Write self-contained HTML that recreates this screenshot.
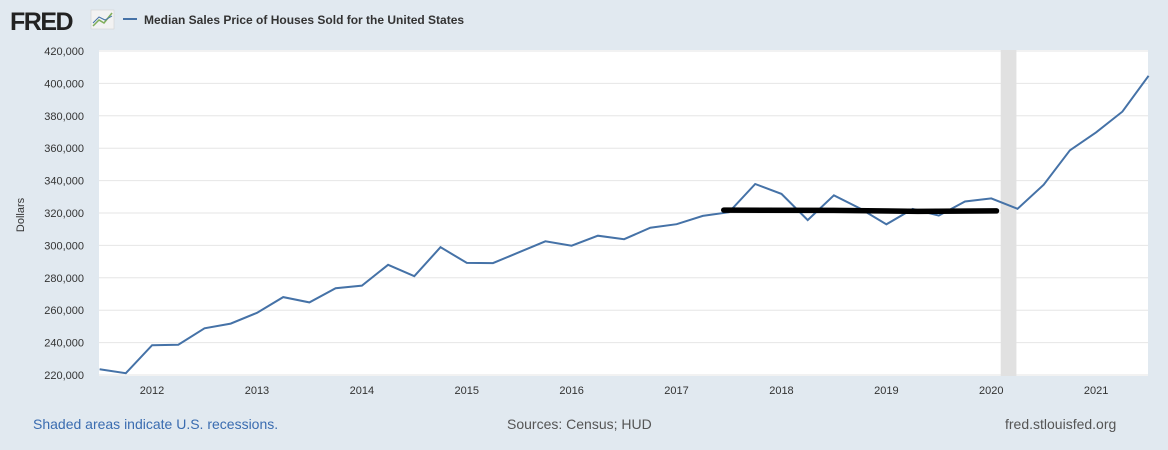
<!DOCTYPE html>
<html><head><meta charset="utf-8"><style>
body{margin:0;background:#e1e9f0;font-family:"Liberation Sans",Arial,sans-serif}
svg{display:block}
</style></head><body>
<svg id="c" width="1168" height="450" xmlns="http://www.w3.org/2000/svg">
<rect width="1168" height="450" fill="#e1e9f0"/>
<g>
<text x="10" y="30" font-size="25" font-weight="bold" fill="#222" letter-spacing="-1.5">FRED</text>
<rect x="91" y="10" width="23" height="19" fill="#f2f2f2" stroke="#ccc" stroke-width="0.5"/>
<polyline points="93,26 99,20 104,23 112,13" fill="none" stroke="#7fae5a" stroke-width="1.5"/>
<polyline points="93,23 99,17 105,20 112,16" fill="none" stroke="#4572a7" stroke-width="1"/>
</g>
<line x1="123" y1="19" x2="137" y2="19" stroke="#4572a7" stroke-width="2"/>
<text x="144" y="24" font-size="12" font-weight="bold" fill="#333">Median Sales Price of Houses Sold for the United States</text>
<rect x="99" y="50" width="1049" height="326" fill="#fff"/>
<g id="grid"></g>
<g id="marks"></g>
<text transform="translate(24,215) rotate(-90)" text-anchor="middle" font-size="11" fill="#333">Dollars</text>
<text x="33" y="429" font-size="14" fill="#3a6cb0">Shaded areas indicate U.S. recessions.</text>
<text x="507" y="429" font-size="14" fill="#555">Sources: Census; HUD</text>
<text x="1005" y="429" font-size="14" fill="#555">fred.stlouisfed.org</text>
</svg>
<script>
const yTicks=[220000,240000,260000,280000,300000,320000,340000,360000,380000,400000,420000];
const xYears=[2012,2013,2014,2015,2016,2017,2018,2019,2020,2021];
const startYear=2011.5;
const prices=[223600,221100,238400,238700,248800,251700,258400,268100,264800,273600,275200,288000,281000,298900,289200,289100,295800,302500,299800,306000,303800,310900,313100,318200,320500,337900,331800,315600,330900,322800,313000,322500,318400,327100,329000,322600,337500,358700,369800,382600,404700];
const recessions=[[2020.09,2020.24]];
const markerLine=[[2017.45,321800],[2018.5,321600],[2019.3,321000],[2020.05,321300]];
const NS="http://www.w3.org/2000/svg";
const x=t=>99.6+(t-startYear)*104.9;
const y=v=>375-(v-220000)*(324/200000);
function mk(tag,attrs,parent){const e=document.createElementNS(NS,tag);for(const k in attrs)e.setAttribute(k,attrs[k]);parent.appendChild(e);return e;}
const grid=document.getElementById('grid'),marks=document.getElementById('marks');
yTicks.forEach(v=>{
 const l=mk('line',{x1:99,x2:1148,y1:y(v),y2:y(v),stroke:'#e6e6e6','stroke-width':1},grid);
 
 
 const t=mk('text',{x:84,y:y(v)+4,'text-anchor':'end','font-size':11,fill:'#333'},grid);
 t.textContent=v.toLocaleString('en-US');
 
 
});
xYears.forEach(yr=>{
 const t=mk('text',{x:x(yr),y:394,'text-anchor':'middle','font-size':11,fill:'#333'},grid);
 t.textContent=yr;
 
 
});
recessions.forEach(r=>{
 const e=mk('rect',{x:x(r[0]),y:50,width:x(r[1])-x(r[0]),height:326,fill:'#e1e1e1'},marks);
 
 
});
const pts=prices.map((v,i)=>x(startYear+i*0.25).toFixed(1)+','+y(v).toFixed(1)).join(' ');
const pl=mk('polyline',{points:pts,fill:'none',stroke:'#4572a7','stroke-width':2},marks);


const ml=mk('polyline',{points:markerLine.map(p=>x(p[0])+','+y(p[1])).join(' '),fill:'none',stroke:'#000','stroke-width':5.5,'stroke-linecap':'round','stroke-linejoin':'round'},marks);


</script>
</body></html>
